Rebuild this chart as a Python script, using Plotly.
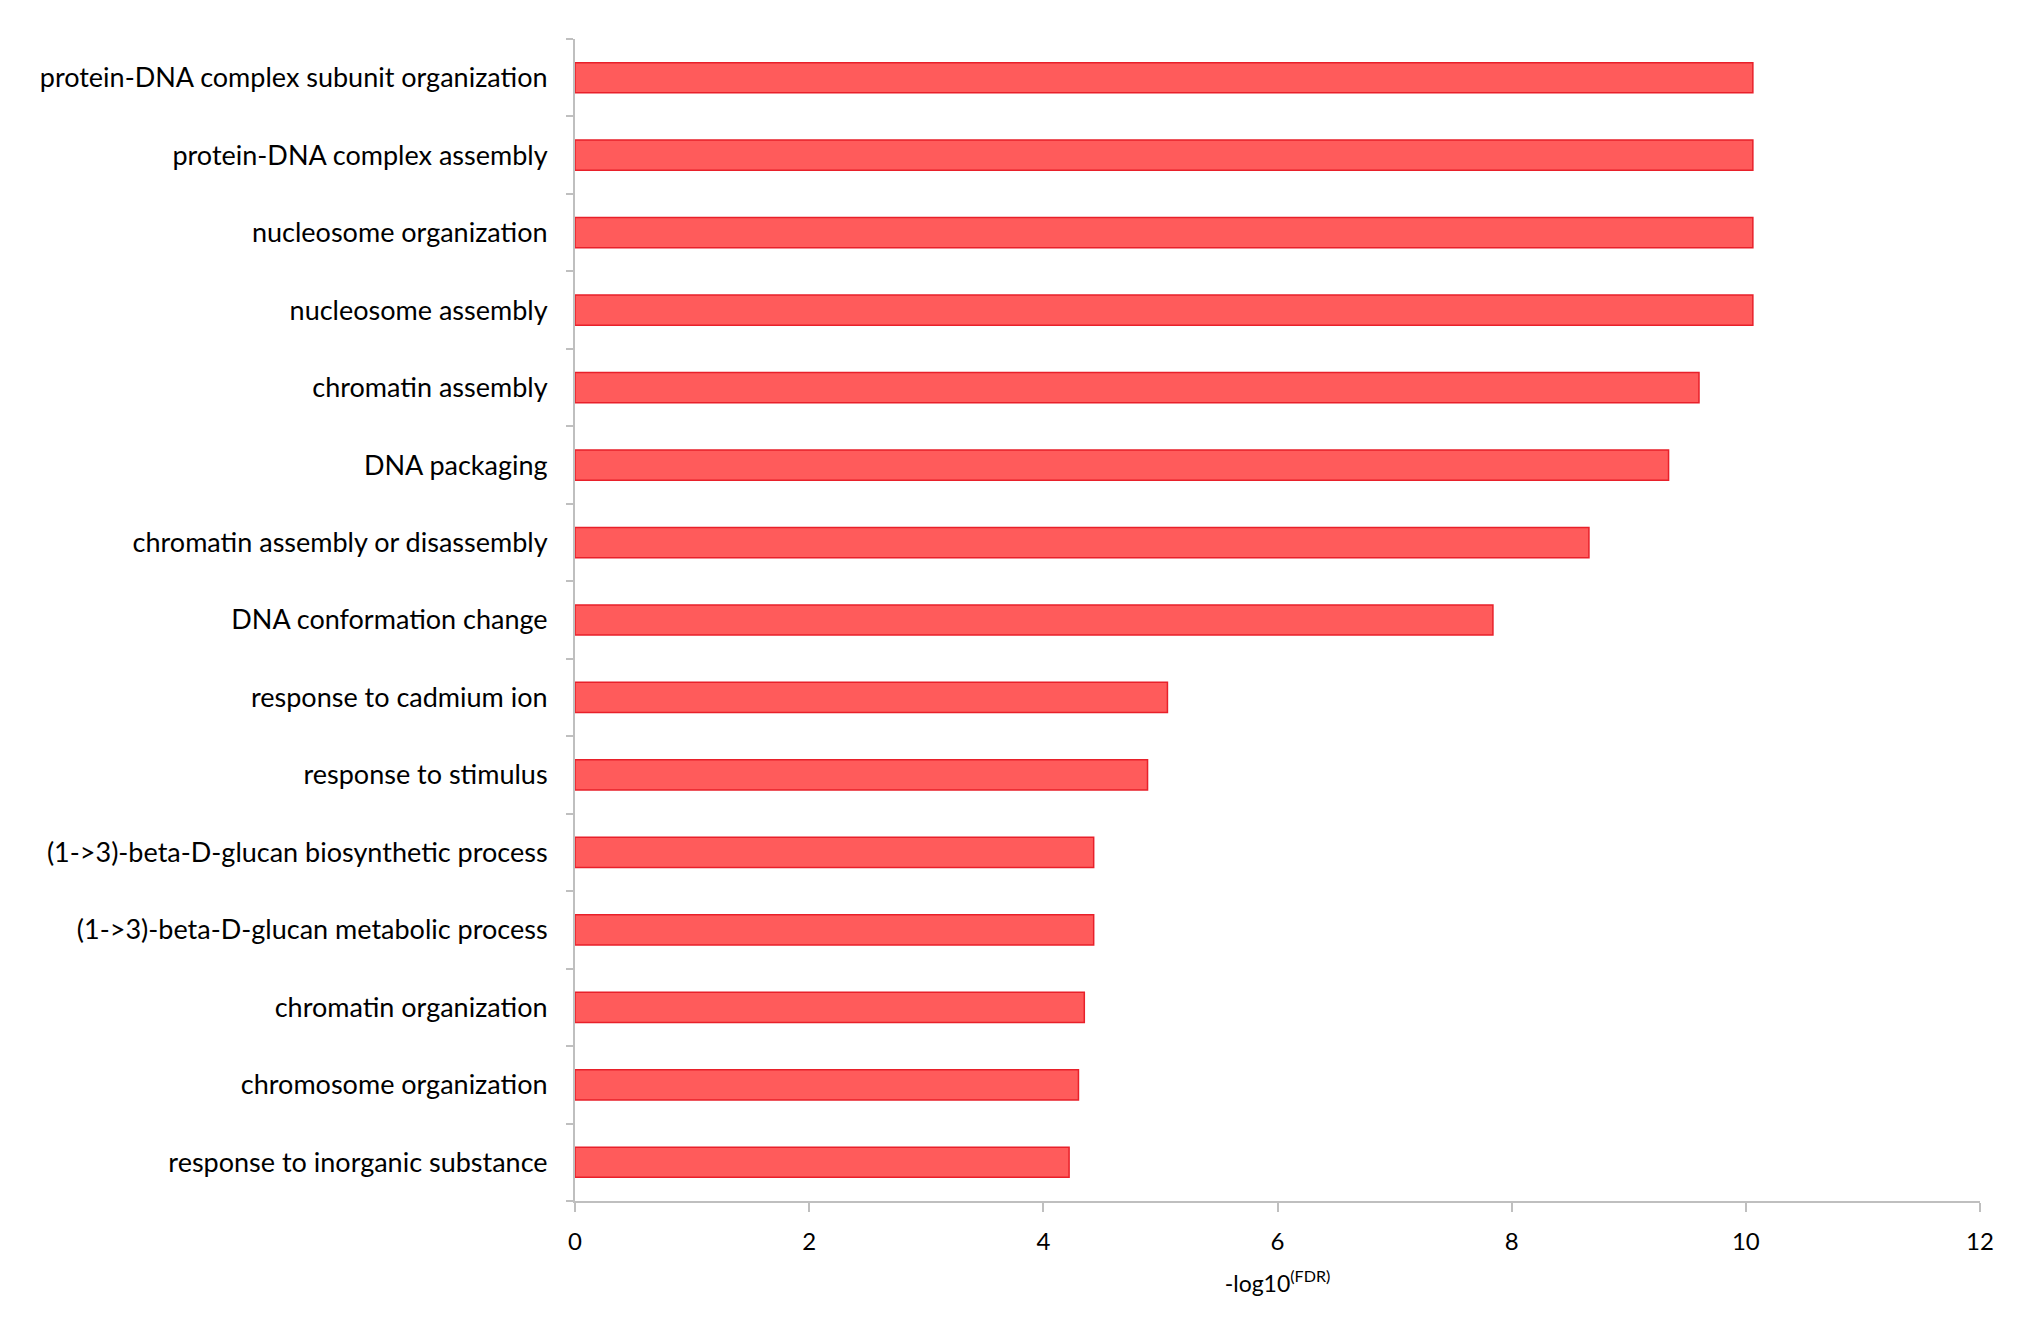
import plotly.graph_objects as go

categories = [
    "protein-DNA complex subunit organization",
    "protein-DNA complex assembly",
    "nucleosome organization",
    "nucleosome assembly",
    "chromatin assembly",
    "DNA packaging",
    "chromatin assembly or disassembly",
    "DNA conformation change",
    "response to cadmium ion",
    "response to stimulus",
    "(1->3)-beta-D-glucan biosynthetic process",
    "(1->3)-beta-D-glucan metabolic process",
    "chromatin organization",
    "chromosome organization",
    "response to inorganic substance",
]
values = [10.06, 10.06, 10.06, 10.06, 9.60, 9.34, 8.66, 7.84, 5.06, 4.89, 4.43, 4.43, 4.35, 4.30, 4.22]
x_ticks = [0, 2, 4, 6, 8, 10, 12]
x_title = "-log10<sup>(FDR)</sup>"

FONT = "Lato"

fig = go.Figure(go.Bar(
    x=values,
    y=categories,
    orientation="h",
    marker=dict(color="#FF5B5B", line=dict(color="#E8202A", width=1.5)),
))

fig.update_layout(
    width=2032, height=1337,
    margin=dict(l=567, r=60, t=31, b=144),
    paper_bgcolor="white", plot_bgcolor="white",
    bargap=0.61,
    showlegend=False,
    font=dict(family=FONT, color="#000000"),
)
fig.update_xaxes(
    range=[0, 12], tickvals=x_ticks,
    showgrid=False, zeroline=False,
    showline=True, linecolor="#BFBFBF", linewidth=2,
    ticks="outside", ticklen=9, tickcolor="#BFBFBF", tickwidth=2,
    ticklabelstandoff=9,
    tickfont=dict(size=24, family=FONT),
    title=dict(text=x_title, font=dict(size=23, family=FONT), standoff=22),
)
fig.update_yaxes(
    categoryorder="array", categoryarray=categories[::-1],
    range=[-0.5, len(categories) - 0.5],
    showgrid=False, zeroline=False,
    showline=True, linecolor="#BFBFBF", linewidth=2,
    ticks="outside", ticklen=7, tickcolor="#BFBFBF", tickwidth=2,
    tickson="boundaries",
    tickfont=dict(size=27, family=FONT),
    ticklabelstandoff=20,
)

fig.write_html("out.html")
